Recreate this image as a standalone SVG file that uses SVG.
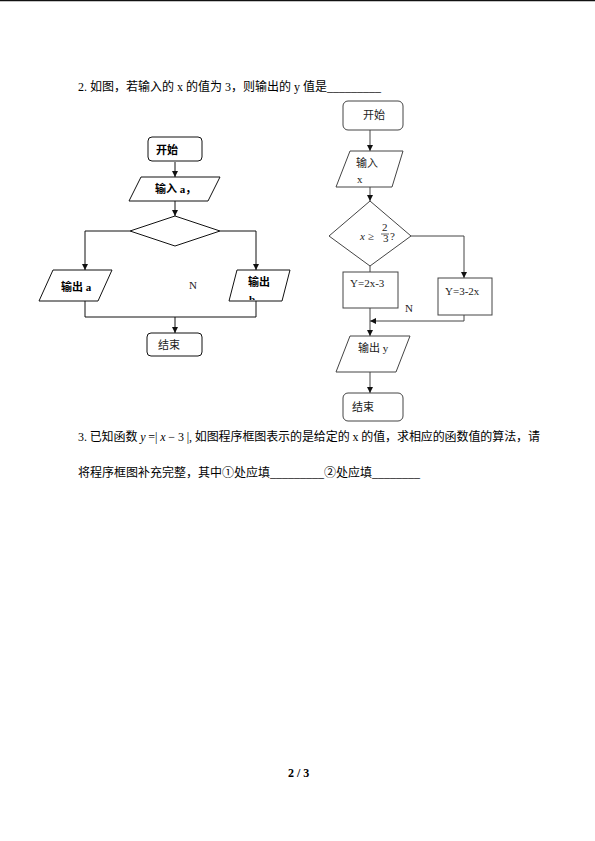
<svg xmlns="http://www.w3.org/2000/svg" width="595" height="841" viewBox="0 0 595 841">
<defs>
<style>
.t{font-family:"Liberation Serif","Noto Sans CJK SC",serif;font-size:12px;fill:#000}
.s{font-family:"Liberation Serif","Noto Sans CJK SC",serif;font-size:11px;fill:#222}
.b{font-family:"Liberation Serif","Noto Sans CJK SC",serif;font-size:11px;font-weight:bold;fill:#000}
.ln{fill:none;stroke:#111;stroke-width:1}
.ln2{fill:none;stroke:#444;stroke-width:1}
.sh{fill:#fff;stroke:#111;stroke-width:1}
.sh2{fill:#fff;stroke:#444;stroke-width:1}
</style>
<marker id="ar" markerWidth="6" markerHeight="6" refX="6" refY="3" orient="auto" markerUnits="userSpaceOnUse">
<path d="M0,0 L6,3 L0,6 Z" fill="#111"/>
</marker>
<clipPath id="cb"><rect x="240" y="290" width="40" height="10"/></clipPath>
</defs>
<rect x="0" y="0" width="595" height="841" fill="#fff"/>
<line x1="0" y1="0.5" x2="595" y2="0.5" stroke="#111" stroke-width="1.5"/>

<text class="t" x="78" y="91">2. 如图，若输入的 x 的值为 3，则输出的 y 值是_________</text>

<!-- left flowchart -->
<g id="connectors-left">
<line class="ln" x1="175" y1="162" x2="175" y2="177" marker-end="url(#ar)"/>
<line class="ln" x1="175" y1="201" x2="175" y2="216" marker-end="url(#ar)"/>
<polyline class="ln" points="130,231 85,231 85,270" marker-end="url(#ar)"/>
<polyline class="ln" points="220,231 256,231 256,270" marker-end="url(#ar)"/>
<polyline class="ln" points="85,301 85,317 256,317 256,301"/>
<line class="ln" x1="175" y1="317" x2="175" y2="333" marker-end="url(#ar)"/>
</g>
<g id="l-start"><rect class="sh" x="148" y="137" width="54" height="24" rx="4"/><text class="b" x="156" y="154" font-size="12">开始</text></g>
<g id="l-input"><polygon class="sh" points="141,177 220,177 208,201 129,201"/><text class="b" x="155" y="193">输入 a，</text></g>
<g id="l-dec"><polygon class="sh" points="175,216 220,231 175,246 130,231"/></g>
<g id="l-outa"><polygon class="sh" points="53,270 112,270 98,301 39,301"/><text class="b" x="61" y="291">输出 a</text></g>
<g id="l-outb"><polygon class="sh" points="237,270 290,270 282,301 229,301"/><text class="b" x="248" y="286">输出</text><text class="b" x="249" y="303" clip-path="url(#cb)">b.</text></g>
<g id="l-n"><text class="s" x="189" y="289" fill="#000">N</text></g>
<g id="l-end"><rect class="sh" x="147" y="333" width="55" height="23" rx="4"/><text class="s" x="158" y="349">结束</text></g>

<!-- right flowchart -->
<g id="connectors-right">
<line class="ln2" x1="370" y1="130" x2="370" y2="151" marker-end="url(#ar)"/>
<line class="ln2" x1="370" y1="187" x2="370" y2="201" marker-end="url(#ar)"/>
<line class="ln2" x1="370" y1="266" x2="370" y2="272"/>
<polyline class="ln2" points="411,236 464,236 464,278" marker-end="url(#ar)"/>
<polyline class="ln2" points="464,315 464,321 370,321" marker-end="url(#ar)"/>
<line class="ln2" x1="370" y1="308" x2="370" y2="336" marker-end="url(#ar)"/>
<line class="ln2" x1="370" y1="372" x2="370" y2="393" marker-end="url(#ar)"/>
</g>
<g id="r-start"><rect class="sh2" x="343" y="101" width="60" height="29" rx="5"/><text class="s" x="363" y="119">开始</text></g>
<g id="r-input"><polygon class="sh2" points="350,151 403,151 392,187 336,187"/><text class="s" x="356" y="167">输入</text><text class="s" x="357" y="183">x</text></g>
<g id="r-dec"><polygon class="sh2" points="370,201 411,236 370,266 329,236"/>
<text class="s" x="360" y="240"><tspan font-style="italic">x</tspan> ≥</text>
<text class="s" x="382" y="231" font-size="10">2</text>
<line x1="381" y1="234" x2="389" y2="234" stroke="#222" stroke-width="0.7"/>
<text class="s" x="383" y="242" font-size="7">3</text>
<text class="s" x="390" y="240">?</text></g>
<g id="r-y1"><rect class="sh2" x="343" y="272" width="55" height="36"/><text class="s" x="350" y="287">Y=2x-3</text></g>
<g id="r-y2"><rect class="sh2" x="438" y="278" width="54" height="37"/><text class="s" x="445" y="295">Y=3-2x</text></g>
<g id="r-n"><text class="s" x="405" y="312">N</text></g>
<g id="r-out"><polygon class="sh2" points="350,336 410,336 396,372 336,372"/><text class="s" x="358" y="352">输出 y</text></g>
<g id="r-end"><rect class="sh2" x="343" y="393" width="60" height="28" rx="5"/><text class="s" x="352" y="411">结束</text></g>

<text class="t" x="78" y="441" textLength="462" lengthAdjust="spacing">3. 已知函数 <tspan font-style="italic">y</tspan> =| <tspan font-style="italic">x</tspan> − 3 |, 如图程序框图表示的是给定的 x 的值，求相应的函数值的算法，请</text>
<text class="t" x="78" y="477">将程序框图补充完整，其中①处应填_________②处应填________</text>

<text class="t" x="288" y="777" font-weight="bold">2 / 3</text>
</svg>
